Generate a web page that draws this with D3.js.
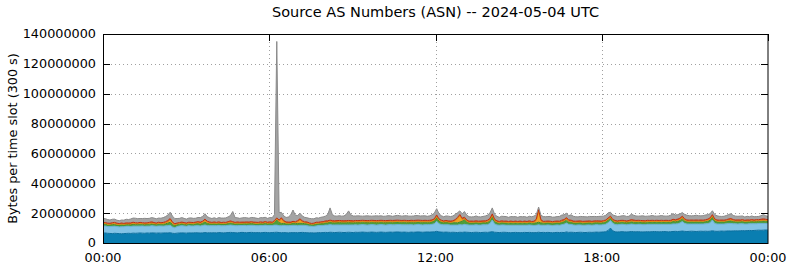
<!DOCTYPE html>
<html><head><meta charset="utf-8">
<script src="https://cdn.jsdelivr.net/npm/d3@7"></script>
<style>
html,body{margin:0;padding:0;background:#fff;}
svg{display:block;font-family:"DejaVu Sans",sans-serif;}
</style></head>
<body><svg id="c" width="790" height="267"></svg>
<script>
// values in millions of bytes per 5-minute slot (288 slots)
const title = "Source AS Numbers (ASN) -- 2024-05-04 UTC";
const yLabel = "Bytes per time slot (300 s)";
const yTicks = [0,20000000,40000000,60000000,80000000,100000000,120000000,140000000];
const xTickLabels = ["00:00","06:00","12:00","18:00","00:00"];
const seriesNames = ["as1","as2","as3","as4","as5","other"];

const darkBlue = [
6.6,6.7,6.5,6.4,6.3,6.5,6.4,6.3,6.2,6.3,6.4,6.5,6.4,6.6,6.5,6.6,6.7,6.6,6.5,6.7,6.6,6.8,6.7,6.6,
6.7,6.6,6.7,6.8,6.7,6.9,6.5,6.4,6.6,6.7,6.8,6.7,6.6,6.8,6.7,6.8,6.9,6.8,6.7,6.8,7.0,6.8,6.9,6.8,
6.9,6.8,7.0,6.9,6.8,6.9,7.0,7.1,7.0,6.9,6.8,7.0,7.1,7.0,6.9,7.0,7.1,7.0,6.9,7.0,6.9,7.0,7.1,7.0,
6.9,7.0,7.1,7.2,7.0,6.9,7.0,6.9,6.8,7.0,6.9,7.0,6.9,7.0,7.1,7.0,6.9,6.8,6.9,6.7,6.8,7.0,6.9,7.0,
7.1,7.0,7.2,7.1,7.0,7.1,7.2,7.1,7.0,7.1,7.2,7.1,7.0,7.2,7.1,7.2,7.3,7.2,7.1,7.2,7.3,7.2,7.1,7.2,
7.3,7.2,7.1,7.2,7.3,7.2,7.3,7.4,7.3,7.2,7.3,7.2,7.1,7.3,7.2,7.3,7.4,7.3,7.2,7.3,7.4,7.3,7.4,7.5,
7.8,7.4,7.3,7.2,7.3,7.2,7.1,7.2,7.1,7.0,7.2,7.1,7.3,7.2,7.1,7.0,7.1,7.2,7.1,7.0,7.1,7.2,7.1,7.3,
7.6,7.2,7.1,7.0,7.1,7.2,7.1,7.0,6.9,7.0,7.1,7.0,6.9,7.0,7.1,7.0,7.1,7.0,6.9,7.0,7.2,7.0,7.1,7.0,
7.1,7.0,6.9,7.0,7.1,7.0,7.1,7.0,7.4,7.1,7.2,7.1,7.0,7.1,7.2,7.1,7.0,7.1,7.2,7.1,7.2,7.3,7.2,7.3,
7.4,7.6,8.4,10.0,8.2,7.5,7.4,7.5,7.6,7.5,7.4,7.5,7.7,7.6,7.5,7.6,7.5,7.4,7.5,7.6,7.5,7.6,7.7,7.6,
7.5,7.6,7.7,7.6,7.5,7.6,7.7,7.8,7.7,7.8,8.0,7.8,7.7,7.8,7.9,7.8,7.7,7.8,7.9,7.8,7.9,7.8,7.9,8.2,
7.9,7.8,7.9,8.0,7.9,8.0,8.1,8.0,8.1,8.2,8.1,8.2,8.3,8.2,8.3,8.4,8.3,8.4,8.5,8.6,8.5,8.6,8.7,8.6];

const lightBlue = [
4.6,4.7,4.5,4.6,4.8,4.7,4.6,4.5,4.7,4.6,4.8,4.7,4.6,4.7,4.8,4.7,4.6,4.8,4.7,4.6,4.7,4.8,4.7,4.6,
4.7,4.8,4.6,4.7,4.9,5.0,4.2,3.8,4.4,4.7,4.8,4.7,4.6,4.8,4.7,4.6,4.7,4.8,4.7,4.9,5.1,4.8,4.7,4.8,
4.7,4.8,4.7,4.6,4.8,4.7,4.8,4.9,4.8,4.7,4.8,4.7,4.6,4.8,4.7,4.8,4.7,4.8,4.7,4.6,4.8,4.7,4.8,4.7,
4.8,4.7,4.9,4.8,4.6,4.7,4.8,4.7,4.8,4.7,4.9,4.8,4.7,4.8,4.7,4.8,4.7,4.5,4.3,4.4,4.6,4.7,4.8,4.7,
4.9,5.0,5.1,5.0,5.1,5.0,4.9,5.0,5.1,5.0,4.9,5.0,5.1,5.0,4.9,5.0,5.1,5.0,4.9,5.0,5.1,5.0,4.9,5.0,
5.1,5.0,4.9,5.0,5.1,5.0,4.9,5.0,5.1,5.0,4.9,5.0,5.1,5.0,4.9,5.0,5.1,5.0,4.9,5.0,4.9,5.0,5.1,5.4,
6.8,5.5,5.1,5.0,4.9,5.0,4.9,4.8,4.9,5.0,5.1,5.0,5.2,5.0,4.9,5.0,4.9,5.0,4.9,5.0,5.1,5.0,5.2,5.8,
7.8,5.6,5.0,4.9,5.0,4.9,4.8,4.9,5.0,4.9,4.8,4.9,5.0,4.9,4.8,4.9,5.0,4.9,4.8,4.9,5.0,4.9,4.8,4.9,
5.0,4.9,4.8,4.9,5.0,4.9,5.2,5.6,6.0,5.4,5.2,5.0,4.9,5.0,4.9,4.8,4.9,5.0,4.9,4.8,4.9,5.0,4.9,4.8,
4.9,5.0,5.2,5.1,5.0,4.9,4.8,4.9,5.0,4.9,4.8,4.9,5.0,4.9,4.8,4.9,5.0,4.9,4.8,4.9,5.0,4.9,4.8,4.9,
5.0,4.9,4.8,4.9,5.0,4.9,5.1,5.0,5.2,5.6,6.4,5.4,5.0,4.9,4.8,4.9,5.0,4.9,4.8,4.9,5.0,5.2,5.6,7.2,
5.2,4.9,4.8,4.7,4.8,4.9,5.0,5.1,4.8,4.7,4.6,4.7,4.6,4.5,4.4,4.5,4.6,4.5,4.4,4.5,4.6,4.5,4.4,4.5];

const green = [
1.2,1.3,1.1,1.2,1.3,1.2,1.1,1.2,1.3,1.2,1.1,1.2,1.3,1.2,1.1,1.2,1.3,1.2,1.1,1.2,1.3,1.2,1.1,1.2,
1.3,1.2,1.3,1.4,1.7,2.0,1.6,1.4,1.3,1.2,1.3,1.2,1.1,1.2,1.3,1.2,1.3,1.4,1.3,1.5,1.9,1.5,1.3,1.2,
1.3,1.2,1.3,1.2,1.1,1.2,1.3,1.4,1.3,1.2,1.3,1.2,1.1,1.2,1.3,1.2,1.3,1.2,1.1,1.2,1.3,1.2,1.3,1.2,
1.3,1.2,1.7,3.4,2.1,1.5,1.3,1.2,1.3,1.2,1.4,1.3,1.5,1.4,1.3,1.2,1.3,1.2,1.1,1.2,1.3,1.2,1.3,1.4,
1.5,1.6,1.7,1.6,1.5,1.6,1.7,1.6,1.5,1.6,1.7,1.6,1.5,1.6,1.7,1.6,1.5,1.6,1.7,1.6,1.5,1.6,1.7,1.6,
1.5,1.6,1.7,1.6,1.5,1.6,1.7,1.6,1.5,1.6,1.7,1.6,1.5,1.6,1.7,1.6,1.5,1.6,1.7,1.6,1.5,1.6,1.7,1.8,
2.3,1.8,1.6,1.5,1.6,1.5,1.4,1.5,1.6,1.5,1.7,2.5,3.1,1.9,1.5,1.4,1.5,1.4,1.5,1.4,1.5,1.4,1.5,1.7,
2.1,1.6,1.5,1.4,1.5,1.4,1.5,1.4,1.5,1.4,1.5,1.4,1.5,1.4,1.5,1.4,1.5,1.4,1.5,1.6,1.7,1.5,1.4,1.5,
1.4,1.5,1.4,1.5,1.4,1.5,1.6,1.7,1.9,1.6,1.5,1.4,1.5,1.4,1.5,1.4,1.5,1.4,1.5,1.4,1.5,1.4,1.5,1.4,
1.5,1.6,1.7,1.6,1.5,1.4,1.5,1.4,1.5,1.4,1.5,1.4,1.5,1.4,1.5,1.4,1.5,1.4,1.5,1.4,1.5,1.4,1.5,1.4,
1.5,1.4,1.5,1.4,1.5,1.4,1.6,1.5,1.6,1.7,1.9,1.6,1.5,1.4,1.5,1.4,1.5,1.4,1.5,1.4,1.5,1.6,1.7,1.9,
1.6,1.5,1.4,1.5,1.4,1.5,1.6,1.7,1.5,1.4,1.5,1.4,1.5,1.4,1.5,1.4,1.5,1.4,1.5,1.4,1.5,1.6,1.5,1.4];

const orange = [
0.5,0.4,0.5,0.4,0.5,0.6,0.5,0.4,0.5,0.4,0.5,0.4,0.5,0.6,0.5,0.4,0.5,0.4,0.5,0.4,0.5,0.6,0.5,0.4,
0.5,0.4,0.5,0.6,0.9,1.5,0.9,0.6,0.5,0.4,0.5,0.4,0.5,0.4,0.5,0.4,0.5,0.6,0.5,0.7,1.1,0.7,0.5,0.4,
0.5,0.4,0.5,0.4,0.5,0.4,0.5,0.6,0.5,0.4,0.5,0.4,0.5,0.4,0.5,0.4,0.5,0.4,0.5,0.4,0.5,0.4,0.5,0.4,
0.5,0.4,0.5,0.7,0.9,2.9,1.1,0.6,0.5,0.4,0.6,0.5,1.1,2.1,1.1,0.6,0.5,0.4,0.3,0.4,0.5,0.4,0.5,0.4,
0.5,0.4,0.5,0.4,0.5,0.4,0.5,0.4,0.5,0.4,0.5,0.4,0.5,0.4,0.5,0.4,0.5,0.4,0.5,0.4,0.5,0.4,0.5,0.4,
0.5,0.4,0.5,0.4,0.5,0.4,0.5,0.4,0.5,0.4,0.5,0.4,0.5,0.4,0.5,0.4,0.5,0.4,0.5,0.4,0.5,0.4,0.5,0.6,
0.9,0.6,0.5,0.4,0.5,0.4,0.5,0.7,1.3,2.7,4.3,1.1,0.7,0.5,0.4,0.5,0.4,0.5,0.4,0.5,0.4,0.5,0.6,0.7,
0.9,0.6,0.5,0.4,0.5,0.4,0.5,0.4,0.5,0.4,0.5,0.4,0.5,0.4,0.5,0.4,0.5,0.4,0.6,1.6,7.6,1.4,0.5,0.4,
0.5,0.4,0.5,0.4,0.5,0.4,0.5,0.6,0.8,0.6,0.5,0.4,0.5,0.4,0.5,0.4,0.5,0.4,0.5,0.4,0.5,0.4,0.5,0.4,
0.5,0.4,0.6,0.5,0.4,0.5,0.4,0.5,0.4,0.5,0.4,0.5,0.6,0.7,0.6,0.5,0.4,0.5,0.4,0.5,0.4,0.5,0.4,0.5,
0.4,0.5,0.4,0.5,0.4,0.5,0.6,0.5,0.6,0.7,0.8,0.6,0.5,0.4,0.5,0.4,0.5,0.4,0.5,0.4,0.5,0.6,0.7,0.8,
0.6,0.5,0.4,0.5,0.4,0.5,0.6,0.7,0.5,0.4,0.5,0.4,0.5,0.4,0.5,0.4,0.5,0.4,0.5,0.4,0.5,0.6,0.5,0.4];

const red = [
0.7,0.6,0.7,0.6,0.7,0.8,0.7,0.6,0.7,0.6,0.7,0.6,0.7,0.8,0.7,0.6,0.7,0.6,0.7,0.6,0.7,0.8,0.7,0.6,
0.7,0.6,0.7,0.8,0.9,1.0,0.8,0.7,0.6,0.7,0.6,0.7,0.6,0.7,0.6,0.7,0.6,0.7,0.8,0.7,0.9,0.8,0.7,0.6,
0.7,0.6,0.7,0.6,0.7,0.6,0.7,0.8,0.7,0.6,0.7,0.6,0.7,0.6,0.7,0.6,0.7,0.6,0.7,0.6,0.7,0.6,0.7,0.6,
0.7,0.6,0.8,0.7,0.8,0.9,0.8,0.7,0.6,0.7,0.7,0.6,0.8,0.9,0.7,0.6,0.7,0.6,0.5,0.6,0.7,0.6,0.7,0.8,
0.8,0.9,0.8,0.9,0.8,0.9,0.8,0.9,0.8,0.9,0.8,0.9,0.8,0.9,0.8,0.9,0.8,0.9,0.8,0.9,0.8,0.9,0.8,0.9,
0.8,0.9,0.8,0.9,0.8,0.9,0.8,0.9,0.8,0.9,0.8,0.9,0.8,0.9,0.8,0.9,0.8,0.9,0.8,0.9,0.8,0.9,0.8,0.9,
1.0,0.9,0.8,0.7,0.8,0.7,0.8,0.7,0.8,0.9,0.8,0.9,1.0,0.8,0.7,0.8,0.7,0.8,0.7,0.8,0.7,0.8,0.9,1.0,
1.1,0.9,0.8,0.7,0.8,0.7,0.8,0.7,0.8,0.7,0.8,0.7,0.8,0.7,0.8,0.7,0.8,0.7,0.8,0.9,0.8,0.8,0.7,0.8,
0.7,0.8,0.7,0.8,0.7,0.8,0.9,0.8,0.9,0.8,0.9,0.8,0.7,0.8,0.7,0.8,0.7,0.8,0.7,0.8,0.7,0.8,0.7,0.8,
0.7,0.8,0.9,0.8,0.7,0.8,0.7,0.8,0.7,0.8,0.7,0.8,0.9,0.8,0.7,0.8,0.7,0.8,0.7,0.8,0.7,0.8,0.7,0.8,
0.7,0.8,0.7,0.8,0.7,0.8,0.9,0.8,0.9,0.8,0.9,0.8,0.7,0.8,0.7,0.8,0.7,0.8,0.7,0.8,0.7,0.8,0.9,0.9,
0.8,0.7,0.8,0.7,0.8,0.7,0.8,0.9,0.8,0.7,0.8,0.7,0.8,0.7,0.8,0.7,0.8,0.7,0.8,0.7,0.8,0.9,0.8,0.7];

const gray = [
2.8,2.6,2.4,2.2,2.3,2.2,2.0,1.9,2.0,2.2,2.4,2.3,2.6,2.8,3.0,2.8,2.6,2.8,3.0,2.9,2.7,2.8,3.0,2.8,
2.8,3.0,3.2,3.4,3.6,4.2,4.0,3.4,3.0,2.8,3.0,2.8,2.6,2.8,3.0,2.8,2.6,2.8,3.0,3.2,3.6,3.0,2.8,2.6,
2.8,2.6,2.8,3.0,2.8,3.0,3.2,3.6,6.8,3.2,2.8,2.6,2.8,3.0,2.8,2.6,2.8,3.0,2.8,2.6,2.8,3.0,2.8,2.6,
2.8,3.0,4.0,118.2,5.0,3.6,3.2,3.0,3.4,4.8,7.6,4.4,3.4,3.8,3.2,3.0,2.8,3.0,3.2,2.9,3.0,2.8,3.0,3.2,
3.2,4.2,8.2,4.0,3.2,3.0,3.2,3.0,3.2,4.2,6.4,3.8,3.2,3.0,3.2,3.0,2.8,3.0,3.2,3.0,2.8,3.0,3.2,3.0,
3.0,2.8,3.0,3.2,3.0,2.8,3.0,3.2,3.1,2.9,3.0,3.2,3.0,2.8,3.0,3.2,3.0,2.9,3.1,3.0,2.8,3.0,3.4,3.8,
4.2,3.4,3.0,2.8,3.0,3.2,3.0,3.2,3.4,3.2,2.4,3.0,3.8,3.2,3.0,2.8,3.0,3.2,3.0,2.8,3.0,3.2,3.4,3.6,
4.0,3.4,3.0,2.8,3.0,3.2,3.0,2.8,3.0,3.2,3.0,2.8,3.0,3.2,3.0,2.8,3.0,3.2,3.4,3.0,1.8,3.0,3.2,3.0,
3.0,3.2,3.0,2.8,3.0,3.2,3.4,3.2,3.0,2.8,3.6,3.2,3.0,2.8,3.0,3.2,3.0,2.8,3.0,3.2,3.0,2.8,3.0,3.2,
3.0,3.2,3.4,2.6,3.0,3.2,3.0,2.8,3.0,3.2,3.0,2.8,3.6,3.2,3.0,2.8,3.0,3.2,3.0,2.8,3.0,3.2,3.0,2.8,
3.0,3.2,3.0,2.8,3.0,3.4,3.8,3.2,3.0,2.8,2.4,3.0,3.2,3.0,2.8,3.0,3.2,3.0,2.8,3.0,3.2,3.0,2.8,2.6,
3.0,2.8,2.6,2.4,2.6,2.8,3.0,3.2,2.8,2.6,2.4,2.6,2.4,2.2,2.4,2.2,2.4,2.2,2.0,2.2,2.4,2.8,2.4,2.2];

const colors = ["#0a7eb1","#82c3e6","#4e9e3a","#f1a226","#d2481c","#a4a4a4"];
const strokes = ["#0a6f9e","#6ab0d6","#3f8a2e","#e08a10","#c03010","#8a8a8a"];

const svg = d3.select("#c");
const m = {l:103, r:22, t:34, b:24};
const W = 790, H = 267;
const w = W - m.l - m.r, h = H - m.t - m.b;
const g = svg.append("g").attr("transform", `translate(${m.l},${m.t})`);

const seriesArrays = [darkBlue, lightBlue, green, orange, red, gray];
const rows = darkBlue.map((_, i) => {
  const r = {i};
  seriesNames.forEach((k, j) => r[k] = seriesArrays[j][i] * 1e6);
  return r;
});
const stacked = d3.stack().keys(seriesNames)(rows);

const xi = d3.scaleLinear().domain([0, rows.length - 1]).range([0, w]);
const xt = d3.scaleUtc().domain([new Date(Date.UTC(2024,4,4)), new Date(Date.UTC(2024,4,5))]).range([0, w]);
const y = d3.scaleLinear().domain([0, 140000000]).range([h, 0]);

// grid
const grid = g.append("g").attr("stroke", "#a0a0a0").attr("stroke-width", 1).attr("stroke-dasharray", "1,3");
yTicks.slice(1, -1).forEach(v => grid.append("line").attr("x1", 0).attr("x2", w)
  .attr("y1", Math.round(y(v)) + 0.5).attr("y2", Math.round(y(v)) + 0.5));
const xtv = xt.ticks(d3.utcHour.every(6));
xtv.slice(1, -1).forEach(t => grid.append("line").attr("y1", 0).attr("y2", h)
  .attr("x1", Math.round(xt(t)) + 0.5).attr("x2", Math.round(xt(t)) + 0.5));

// areas
const area = d3.area().x(d => xi(d.data.i)).y0(d => y(d[0])).y1(d => y(d[1]));
const line = d3.line().x(d => xi(d.data.i)).y(d => y(d[1]));
g.selectAll("path.a").data(stacked).join("path").attr("class", "a")
  .attr("d", area).attr("fill", (d, i) => colors[i]);
g.selectAll("path.l").data(stacked).join("path").attr("class", "l")
  .attr("d", line).attr("fill", "none").attr("stroke", (d, i) => strokes[i]).attr("stroke-width", 1);

// frame
g.append("rect").attr("x", 0.5).attr("y", 0.5).attr("width", w - 0.5).attr("height", h)
  .attr("fill", "none").attr("stroke", "#000").attr("stroke-width", 1);

// ticks
const tk = g.append("g").attr("stroke", "#000").attr("stroke-width", 1);
yTicks.slice(1).forEach(v => {
  const yy = Math.round(y(v)) + 0.5;
  tk.append("line").attr("x1", 0).attr("x2", 7).attr("y1", yy).attr("y2", yy);
  tk.append("line").attr("x1", w - 7).attr("x2", w).attr("y1", yy).attr("y2", yy);
});
xtv.forEach(t => {
  const xx = Math.round(xt(t)) + 0.5;
  tk.append("line").attr("x1", xx).attr("x2", xx).attr("y1", 0).attr("y2", 7);
});

// labels
const fs = "12.8px";
g.append("g").selectAll("text").data(yTicks).join("text")
  .attr("x", -7).attr("y", d => y(d)).attr("dy", "0.35em").attr("text-anchor", "end")
  .attr("font-size", fs).attr("fill", "#000").text(d => d3.format("d")(d));
g.append("g").selectAll("text").data(xtv).join("text")
  .attr("x", d => xt(d)).attr("y", h + 19).attr("text-anchor", "middle")
  .attr("font-size", fs).attr("fill", "#000").text((d, i) => xTickLabels[i]);
svg.append("text").attr("x", m.l + w / 2).attr("y", 17).attr("text-anchor", "middle")
  .attr("font-size", "14.5px").attr("fill", "#000").text(title);
svg.append("text").attr("transform", `translate(17,${m.t + h / 2}) rotate(-90)`)
  .attr("text-anchor", "middle").attr("font-size", fs).attr("fill", "#000").text(yLabel);
</script>
</body></html>
